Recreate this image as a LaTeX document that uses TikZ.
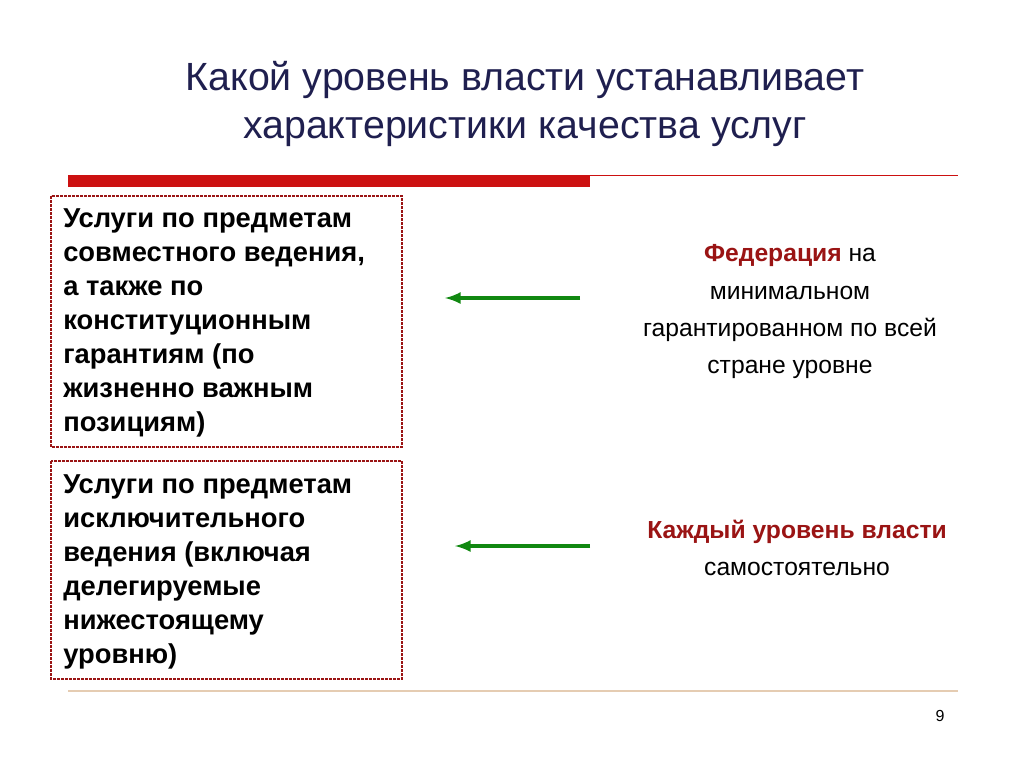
\documentclass[tikz,border=0pt]{standalone}
\usepackage{fontspec}
\setmainfont{Liberation Sans}
\usetikzlibrary{positioning}
\definecolor{titleblue}{HTML}{1F1F4F}
\definecolor{darkred}{HTML}{9A1414}
\definecolor{barred}{HTML}{CC1111}
\definecolor{arrowgreen}{HTML}{118811}
\tikzset{
  boxtext/.style = {anchor=north west, align=left, font=\fontsize{20.5}{25.5}\selectfont\bfseries, inner sep=0pt},
  sidetext/.style = {align=center, font=\fontsize{18.5}{28}\selectfont, inner sep=0pt},
  dotbox/.style = {draw=darkred, densely dotted, line width=2pt},
  greenarrow/.style = {draw=arrowgreen, line width=3pt, -latex}
}
\begin{document}
\begin{tikzpicture}[x=0.75pt, y=-0.75pt]
  \useasboundingbox (0,0) rectangle (1024,768);

  % title
  \node[font=\fontsize{29.5}{36}\selectfont, text=titleblue, align=center] (title) at (525,104)
    {Какой уровень власти устанавливает\\характеристики качества услуг};

  % rules
  \fill[barred] (68,175) rectangle (590,187);
  \draw[barred, line width=0.6pt] (590,175) -- (958,175);
  \draw[color=brown!40, line width=0.8pt] (68,691) -- (958,691);

  % boxes
  \draw[dotbox] (51,196) rectangle (402,447);
  \draw[dotbox] (51,461) rectangle (402,679);
  \node[boxtext] (joint) at (63,208)
    {Услуги по предметам\\совместного ведения,\\а также по\\конституционным\\гарантиям (по\\жизненно важным\\позициям)};
  \node[boxtext] (sole) at (63,474)
    {Услуги по предметам\\исключительного\\ведения (включая\\делегируемые\\нижестоящему\\уровню)};

  % right side
  \node[sidetext] (fed) at (790,312)
    {\textcolor{darkred}{\textbf{Федерация}} на\\минимальном\\гарантированном по всей\\стране уровне};
  \node[sidetext] (each) at (797,548)
    {\textcolor{darkred}{\textbf{Каждый уровень власти}}\\самостоятельно};

  % arrows
  \coordinate (a1s) at (580,298);
  \coordinate (a1e) at (445,298);
  \coordinate (a2s) at (590,546);
  \coordinate (a2e) at (455,546);
  \draw[greenarrow] (a1s) -- (a1e);
  \draw[greenarrow] (a2s) -- (a2e);

  \node[font=\fontsize{12}{14}\selectfont] (page) at (940,716) {9};
\end{tikzpicture}
\end{document}
